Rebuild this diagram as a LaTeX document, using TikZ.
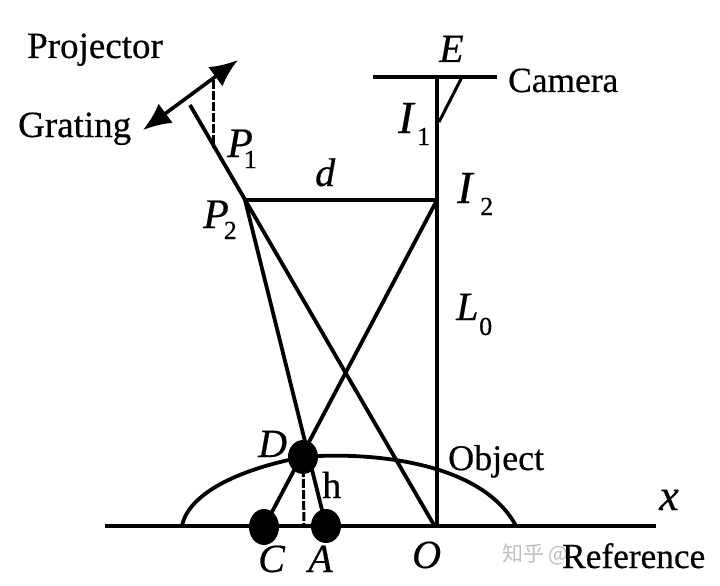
\documentclass[tikz,border=0pt]{standalone}
\usepackage{fontspec}
\setmainfont{Liberation Serif}[UprightFeatures={FakeBold=0.5},ItalicFeatures={FakeBold=0.5}]
\newfontfamily\cjk{Noto Sans CJK SC}
\usetikzlibrary{arrows.meta}
\newcommand{\fsz}[1]{\fontsize{#1}{#1}\selectfont}
\newcommand{\subdigit}[1]{\raisebox{-11pt}{\fontsize{26}{26}\selectfont\upshape #1}}
\tikzset{
  x=1pt,y=-1pt,
  ray/.style={line width=3.8pt,black},
  thinray/.style={line width=3pt,black},
  dashray/.style={line width=3pt,black,dash pattern=on 9pt off 2pt},
  lab/.style={inner sep=0pt,font=\fsz{36},anchor=base west},
  sym/.style={inner sep=0pt,font=\fsz{40}\itshape,anchor=base west},
  subs/.style={inner sep=0pt,font=\fsz{26},anchor=base west},
  gratarrow/.style={line width=3.6pt,black,{Latex[length=28pt,width=24pt]}-{Latex[length=28pt,width=24pt]}},
}
\begin{document}
\begin{tikzpicture}
\useasboundingbox (0,0) rectangle (720,586);
% key points
\coordinate (gl) at (143,130);
\coordinate (gr) at (238,60);
\coordinate (gm) at (213,80);
\coordinate (P1) at (213,148);
\coordinate (Pt) at (190,105);
\coordinate (P2) at (245,200);
\coordinate (O) at (434,525);
\coordinate (Et) at (437,77);
\coordinate (Cl) at (373,77);
\coordinate (Cr) at (497,77);
\coordinate (Es) at (462,77);
\coordinate (I1) at (439,122);
\coordinate (I2) at (437,200);
\coordinate (Ob) at (437,525);
\coordinate (Bl) at (105,526);
\coordinate (Br) at (656,526);
\coordinate (Da) at (303,457);
\coordinate (Db) at (304,526);
\coordinate (Ol) at (182,526);
\coordinate (Or) at (516,526);
\coordinate (Cp) at (264,527);
\coordinate (Ap) at (326,526);
% shapes
\draw[ray] (Bl) -- (Br);
\draw[ray] (Ol) .. controls (188,495) and (235,470) .. (Da)
   .. controls (360,452) and (480,458) .. (Or);
\draw[ray] (Pt) -- (O);
\draw[ray] (P2) -- (Ap);
\draw[ray] (I2) -- (Cp);
\draw[ray] (P2) -- (I2);
\draw[ray] (Et) -- (Ob);
\draw[ray] (Cl) -- (Cr);
\draw[thinray] (Es) -- (I1);
\draw[dashray] (gm) -- (P1);
\draw[dashray] (Da) -- (Db);
\draw[gratarrow] (gl) -- (gr);
\fill (Da) ellipse [x radius=15pt,y radius=17pt];
\fill (Cp) ellipse [x radius=15pt,y radius=18pt];
\fill (Ap) ellipse [x radius=15pt,y radius=17pt];
% labels
\node[inner sep=0pt,anchor=base west,text=black!25,font=\fontsize{21}{21}\cjk] (wm) at (502,561) {知乎 @};
\node[lab,font=\fsz{37}] (tproj) at (27,58) {Projector};
\node[lab,font=\fsz{37}] (tgrat) at (18,137) {Grating};
\node[lab,font=\fsz{35.4}] (tcam) at (508,92) {Camera};
\node[lab] (tobj) at (448,470) {Object};
\node[lab,font=\fsz{35.3}] (tref) at (562,568) {Reference};
\node[lab,font=\fsz{38}] (th) at (322,498) {h};
\node[sym] (tE) at (439,62) {E};
\node[sym,font=\fsz{46}\itshape] (tI1) at (398,133) {I};
\node[subs] (tI1s) at (417,145) {1};
\node[sym,font=\fsz{46}\itshape] (tI2) at (457,203) {I};
\node[subs] (tI2s) at (480,215) {2};
\node[sym,font=\fsz{42}\itshape] (tP1) at (227,157) {P\kern-9pt\subdigit{1}};
\node[sym,font=\fsz{42}\itshape] (tP2) at (203,228) {P\kern-5pt\subdigit{2}};
\node[sym] (td) at (315,186) {d};
\node[sym] (tL) at (456,320) {L};
\node[subs] (tLs) at (479,335) {0};
\node[sym] (tD) at (258,457) {D};
\node[sym] (tC) at (258,572) {C};
\node[sym] (tA) at (308,572) {A};
\node[sym] (tO) at (412,568) {O};
\node[sym,font=\fsz{44}\itshape] (tx) at (659,510) {x};
\end{tikzpicture}
\end{document}
